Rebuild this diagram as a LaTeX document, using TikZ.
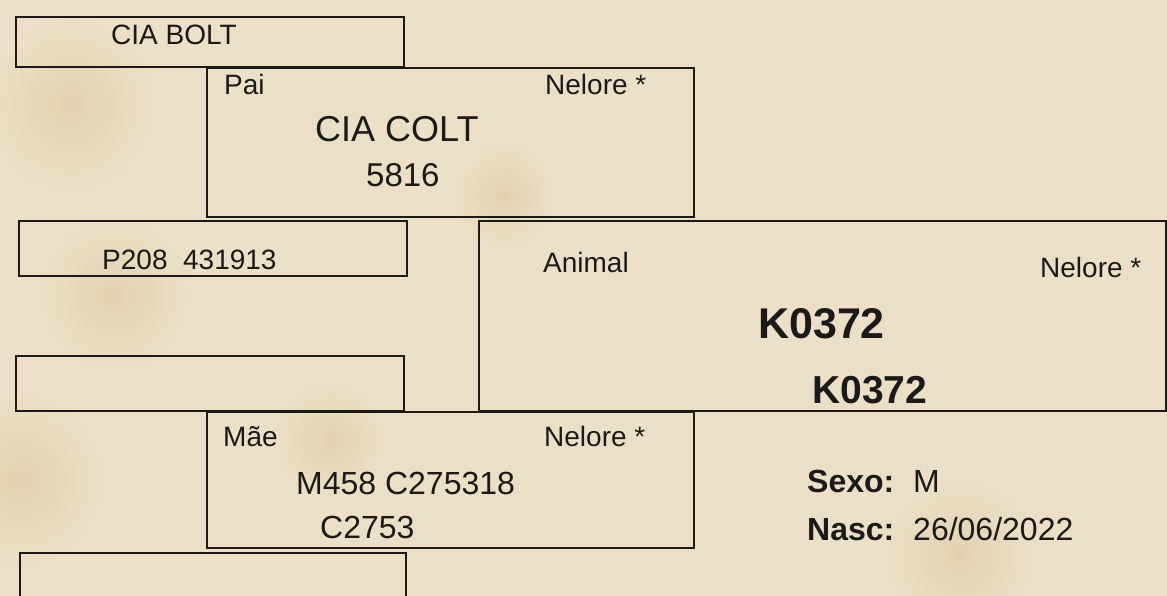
\documentclass[tikz,border=0pt]{standalone}
\usepackage{fontspec}
\setmainfont{Liberation Sans}
\definecolor{parch}{RGB}{235,224,199}
\definecolor{stain}{RGB}{214,192,152}
\definecolor{ink}{RGB}{28,26,24}
\tikzset{
  lbl/.style={anchor=base west, inner sep=0pt, text=ink},
  txtS/.style={lbl, font=\fontsize{28}{32}\selectfont},
  txtM/.style={lbl, font=\fontsize{33}{36}\selectfont},
  txtB/.style={lbl, font=\fontsize{32}{36}\selectfont},
  frame/.style={draw=ink, line width=2.4pt}
}

\begin{document}
\begin{tikzpicture}[x=1pt, y=-1pt]
  \clip (0,0) rectangle (1167,596);
  \fill[parch] (0,0) rectangle (1167,596);
  \foreach \cx/\cy/\r in {70/105/90, 115/295/80, 505/195/55, 960/555/80, 330/440/60, 20/480/90}
    \shade[inner color=stain!45!parch, outer color=parch] (\cx,\cy) circle[radius=\r];

  % boxes
  \foreach \name/\xa/\ya/\xb/\yb in {
    bolt/16/17/404/67, pai/207/68/694/217, pbox/19/221/407/276,
    animal/479/221/1166/411, vazio/16/356/404/411, mae/207/412/694/548,
    vazioB/20/553/406/610}
  {
    \draw[frame] (\xa,\ya) rectangle (\xb,\yb);
    \coordinate (\name) at (\xa,\ya);
  }

  \node[txtS] (boltT) at (111,45) {CIA BOLT};
  \node[txtS] (paiT) at (224,95) {Pai};
  \node[txtS] (paiR) at (545,95) {Nelore *};
  \node[lbl, font=\fontsize{36}{40}\selectfont] (paiN) at (315,142) {CIA COLT};
  \node[txtM] (paiC) at (366,187) {5816};
  \node[txtS] (pbT) at (102,269) {P208~~431913};

  \node[txtS] (anT) at (543,272) {Animal};
  \node[txtS] (anR) at (1040,277) {Nelore *};
  \node[lbl, font=\fontsize{43}{46}\selectfont\bfseries] (anN) at (758,338) {K0372};
  \node[lbl, font=\fontsize{39}{42}\selectfont\bfseries] (anC) at (812,403) {K0372};

  \node[txtS] (maeT) at (223,446) {Mãe};
  \node[txtS] (maeR) at (544,446) {Nelore *};
  \node[txtB] (maeN) at (296,494) {M458 C275318};
  \node[txtB] (maeC) at (320,538) {C2753};

  \node[txtB, font=\fontsize{32}{36}\selectfont\bfseries] (sexo) at (807,492) {Sexo:};
  \node[txtB] (sexoV) at (913,492) {M};
  \node[txtB, font=\fontsize{32}{36}\selectfont\bfseries] (nasc) at (807,540) {Nasc:};
  \node[txtB] (nascV) at (913,540) {26/06/2022};
\end{tikzpicture}
\end{document}
